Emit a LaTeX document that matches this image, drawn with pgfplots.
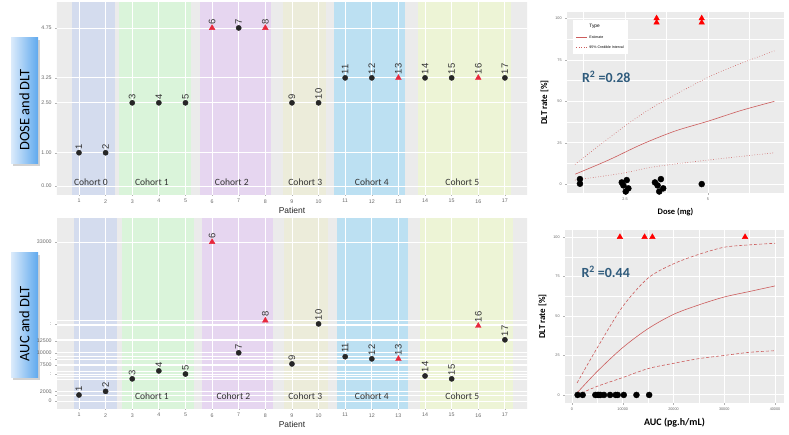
\documentclass[border=0pt]{standalone}
\usepackage{pgfplots}
\pgfplotsset{compat=1.18}
\usepackage{fontspec}
\setmainfont{Carlito}
\newfontfamily\arial{Liberation Sans}

\definecolor{bggray}{HTML}{EBEBEB}
\definecolor{cA}{HTML}{D4DCEE}
\definecolor{cB}{HTML}{DAF4DA}
\definecolor{cC}{HTML}{E6D6F0}
\definecolor{cD}{HTML}{ECECDA}
\definecolor{cE}{HTML}{BCE0F2}
\definecolor{cF}{HTML}{EDF4D6}
\definecolor{dltred}{HTML}{E8283C}
\definecolor{dotblk}{HTML}{262626}
\definecolor{curve}{HTML}{CC5C5C}
\definecolor{rblue}{HTML}{2F5B7C}
\definecolor{boxl}{HTML}{DCEBFB}
\definecolor{boxr}{HTML}{5FA9EE}

\tikzset{cohort/.style={font=\fontsize{9.6}{10}\selectfont, text=black!80}}

\pgfplotsset{
  ggbase/.style={
    scale only axis,
    axis line style={draw=none},
    tick align=outside, xtick pos=left, ytick pos=left,
    major tick length=1.8bp, minor tick length=0pt,
    tick style={gray!60, line width=0.4pt},
    scaled ticks=false,
    /pgf/number format/assume math mode=true,
  },
  leftpanel/.style={
    ggbase, width=470bp, height=191bp,
    xmin=0.174, xmax=17.83, xtick={1,...,17},
    tick label style={font=\arial\fontsize{5.3}{6}\selectfont, text=black!60},
    xlabel={Patient},
    xlabel style={font=\arial\fontsize{8.5}{9}\selectfont, text=black!85, yshift=3bp},
  },
  rightpanel/.style={
    ggbase, grid=both,
    major grid style={white, line width=0.9pt},
    minor grid style={white, line width=0.4pt},
    axis background/.style={fill=bggray},
    tick label style={font=\arial\fontsize{3.8}{4}\selectfont, text=black!60},
    xlabel style={font=\bfseries\fontsize{10}{11}\selectfont},
    ylabel style={font=\bfseries\fontsize{9}{10}\selectfont},
    ylabel={DLT rate [\%]},
  },
  ptlabels/.style={
    point meta=explicit symbolic,
    nodes near coords,
    every node near coord/.style={rotate=90, anchor=west, inner sep=3.5bp,
      font=\arial\fontsize{9.5}{10}\selectfont, text=black!80},
  },
  band/.style={fill=#1, draw=none},
  gline/.style={white, line width=0.9pt},
}

\begin{document}
\begin{tikzpicture}
\path[use as bounding box] (0,0) rectangle (789bp,-435bp);

% side labels
\fill[gray!35] (13bp,-40bp) rectangle (40bp,-166bp);
\shade[left color=boxl, right color=boxr] (11bp,-37bp) rectangle (38bp,-163bp);
\node[rotate=90, font=\fontsize{14.5}{16}\selectfont] at (24.5bp,-110bp) {DOSE and DLT};
\fill[gray!35] (13bp,-255bp) rectangle (40bp,-380bp);
\shade[left color=boxl, right color=boxr] (11bp,-252bp) rectangle (38bp,-377bp);
\node[rotate=90, font=\fontsize{14.5}{16}\selectfont] at (24.5bp,-324bp) {AUC and DLT};

% ---- dose by patient
\begin{axis}[leftpanel, at={(57bp,-3bp)}, anchor=north west,
  ymin=-0.24, ymax=5.5, ytick={0,1,2.5,3.25,4.75},
  yticklabels={0.00,1.00,2.50,3.25,4.75}]
\addplot[band=bggray] coordinates {(0,-1)(18,-1)(18,6)(0,6)};
\addplot[band=cA] coordinates {(0.74,-1)(2.35,-1)(2.35,6)(0.74,6)};
\addplot[band=cB] coordinates {(2.5,-1)(5.21,-1)(5.21,6)(2.5,6)};
\addplot[band=cC] coordinates {(5.54,-1)(8.21,-1)(8.21,6)(5.54,6)};
\addplot[band=cD] coordinates {(8.66,-1)(10.28,-1)(10.28,6)(8.66,6)};
\addplot[band=cE] coordinates {(10.58,-1)(13.24,-1)(13.24,6)(10.58,6)};
\addplot[band=cF] coordinates {(13.73,-1)(17.23,-1)(17.23,6)(13.73,6)};
\pgfplotsinvokeforeach{1,...,17}{\addplot[gline] coordinates {(#1,-1)(#1,6)};}
\pgfplotsinvokeforeach{0,1,2.5,3.25,4.75}{\addplot[gline] coordinates {(0,#1)(18,#1)};}
\addplot[only marks, mark=*, mark size=2.6bp, dotblk, ptlabels] coordinates {
  (1,1.00) [1] (2,1.00) [2] (3,2.50) [3] (4,2.50) [4] (5,2.50) [5]
  (7,4.75) [7] (9,2.50) [9] (10,2.50) [10] (11,3.25) [11] (12,3.25) [12]
  (14,3.25) [14] (15,3.25) [15] (17,3.25) [17]};
\addplot[only marks, mark=triangle*, mark size=3.3bp, dltred, ptlabels] coordinates {
  (6,4.75) [6] (8,4.75) [8] (13,3.25) [13] (16,3.25) [16]};
\node[cohort] at (axis cs:1.45,0.12) {Cohort 0};
\node[cohort] at (axis cs:3.74,0.12) {Cohort 1};
\node[cohort] at (axis cs:6.74,0.12) {Cohort 2};
\node[cohort] at (axis cs:9.5,0.12) {Cohort 3};
\node[cohort] at (axis cs:12.0,0.12) {Cohort 4};
\node[cohort] at (axis cs:15.4,0.12) {Cohort 5};
\end{axis}

% ---- AUC by patient
\begin{axis}[leftpanel, at={(57bp,-218bp)}, anchor=north west, height=190bp,
  ymin=-1450, ymax=37980, ytick={0,2000,7500,10000,12500,33000},
  yticklabels={0,2000,7500,10000,12500,33000},
  extra y ticks={1250,5600,8750,16000},
  extra y tick labels={{'},{:},{:},{:}}]
\addplot[band=bggray] coordinates {(0,-5000)(18,-5000)(18,40000)(0,40000)};
\addplot[band=cA] coordinates {(0.81,-5000)(2.43,-5000)(2.43,40000)(0.81,40000)};
\addplot[band=cB] coordinates {(2.61,-5000)(5.32,-5000)(5.32,40000)(2.61,40000)};
\addplot[band=cC] coordinates {(5.62,-5000)(8.29,-5000)(8.29,40000)(5.62,40000)};
\addplot[band=cD] coordinates {(8.70,-5000)(10.35,-5000)(10.35,40000)(8.70,40000)};
\addplot[band=cE] coordinates {(10.69,-5000)(13.36,-5000)(13.36,40000)(10.69,40000)};
\addplot[band=cF] coordinates {(13.81,-5000)(17.30,-5000)(17.30,40000)(13.81,40000)};
\pgfplotsinvokeforeach{1,...,17}{\addplot[gline] coordinates {(#1,-5000)(#1,40000)};}
\pgfplotsinvokeforeach{0,1250,2000,4600,5200,5600,6250,7500,7700,8750,9200,10000,12500,12700,15600,16000,16700,33000}{\addplot[gline, line width=0.7pt] coordinates {(0,#1)(18,#1)};}
\addplot[only marks, mark=*, mark size=2.6bp, dotblk, ptlabels] coordinates {
  (1,1250) [1] (2,2000) [2] (3,4600) [3] (4,6250) [4] (5,5600) [5]
  (7,10000) [7] (9,7700) [9] (10,16000) [10] (11,9200) [11] (12,8750) [12]
  (14,5200) [14] (15,4600) [15] (17,12700) [17]};
\addplot[only marks, mark=triangle*, mark size=3.3bp, dltred, ptlabels] coordinates {
  (6,33000) [6] (8,16700) [8] (13,8750) [13] (16,15600) [16]};
\node[cohort] at (axis cs:3.74,1040) {Cohort 1};
\node[cohort] at (axis cs:6.8,1040) {Cohort 2};
\node[cohort] at (axis cs:9.5,1040) {Cohort 3};
\node[cohort] at (axis cs:12.0,1040) {Cohort 4};
\node[cohort] at (axis cs:15.4,1040) {Cohort 5};
\end{axis}

% ---- DLT rate vs dose
\begin{axis}[rightpanel, at={(567bp,-12bp)}, anchor=north west,
  width=217bp, height=181bp,
  xmin=0.75, xmax=7.29, ymin=-5.4, ymax=104,
  xtick={2.5,5}, xticklabels={2.5,5}, minor xtick={1.25,3.75,6.25},
  ytick={0,25,50,75,100}, minor ytick={12.5,37.5,62.5,87.5},
  xlabel={Dose (mg)}, xlabel style={font=\bfseries\fontsize{8.5}{9}\selectfont},
  legend style={at={(0.028,0.956)}, anchor=north west, draw=none, fill=white,
    font=\arial\fontsize{3.6}{4}\selectfont, row sep=2bp, inner sep=2.5bp},
  legend image code/.code={\draw[#1] (0bp,0bp) -- (11bp,0bp);},
  legend cell align=left]
\addlegendimage{empty legend}
\addlegendentry{\fontsize{4.8}{5}\selectfont Type}
\addplot[curve, line width=0.6pt, smooth] coordinates {
  (1,6) (2,14.5) (3,24) (4,32) (5,38) (6,44.5) (7,50)};
\addlegendentry{Estimate}
\addplot[curve, line width=0.6pt, dotted, smooth] coordinates {
  (0.99,11.9) (2.4,33.7) (3.4,47.2) (5.0,64.5) (6.0,73) (7.0,80.5)};
\addlegendentry{95\% Credible Interval}
\addplot[curve, line width=0.6pt, dotted, smooth, forget plot] coordinates {
  (0.99,2.4) (2.4,6.5) (3.4,10.5) (5.0,14.5) (7.0,18.9)};
\addplot[only marks, mark=*, mark size=3bp, black, forget plot] coordinates {
  (1.14,3) (1.14,0.2) (2.40,1) (2.55,2.4) (2.45,-0.8) (2.60,-2.6) (2.52,-4.5)
  (3.40,1) (3.58,3) (3.48,-0.8) (3.65,-2.6) (3.53,-4.5) (4.81,0)};
\addplot[only marks, mark=triangle*, mark size=3.2bp, red, forget plot] coordinates {
  (3.45,100.2) (3.45,97.6) (4.81,100.2) (4.81,97.6)};
\node[anchor=west, font=\bfseries\fontsize{14}{15}\selectfont, text=rblue]
  at (axis cs:1.1,64.7) {R\textsuperscript{2} =0.28};
\end{axis}

% ---- DLT rate vs AUC
\begin{axis}[rightpanel, at={(565bp,-230bp)}, anchor=north west,
  width=219bp, height=173bp,
  xmin=-1380, xmax=41770, ymin=-5.1, ymax=104.4,
  xtick={0,10000,20000,30000,40000}, minor xtick={5000,15000,25000,35000},
  ytick={0,25,50,75,100}, minor ytick={12.5,37.5,62.5,87.5},
  /pgf/number format/1000 sep={},
  xlabel={AUC (pg.h/mL)}]
\addplot[curve, line width=0.6pt, smooth] coordinates {
  (1000,1.3) (5000,15) (10000,30) (15000,42) (20000,51) (25000,57)
  (30000,62) (35000,65.5) (40000,69)};
\addplot[curve, line width=0.6pt, dash pattern=on 3bp off 2bp, smooth] coordinates {
  (1000,7.6) (5000,30) (10000,56) (15000,74) (20000,83) (25000,89)
  (30000,93.5) (35000,95) (40000,96)};
\addplot[curve, line width=0.6pt, dash pattern=on 3bp off 2bp, smooth] coordinates {
  (1000,0) (5000,5.5) (10000,11) (15000,16.7) (20000,20) (25000,23)
  (30000,25) (35000,27) (40000,28)};
\addplot[only marks, mark=*, mark size=3bp, black] coordinates {
  (1100,0) (2100,0) (4600,0) (5100,0) (5300,0) (5600,0) (6300,0)
  (7500,0) (8600,0) (9000,0) (10200,0) (12700,0) (15200,0)};
\addplot[only marks, mark=triangle*, mark size=3.2bp, red] coordinates {
  (9440,100) (14300,100) (15840,100) (34100,100)};
\node[anchor=west, font=\bfseries\fontsize{14}{15}\selectfont, text=rblue]
  at (axis cs:1180,77.8) {R\textsuperscript{2} =0.44};
\end{axis}
\end{tikzpicture}
\end{document}
